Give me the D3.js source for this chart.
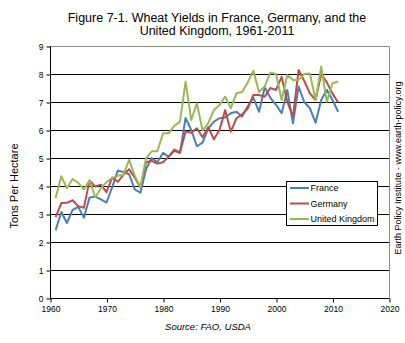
<!DOCTYPE html>
<html><head><meta charset="utf-8">
<script src="https://cdn.jsdelivr.net/npm/d3@7"></script>
<style>body{margin:0;background:#fff}svg{display:block;font-family:"Liberation Sans",Arial,sans-serif}</style>
</head><body><svg id="c" width="405" height="343"></svg>
<script>
const years = d3.range(1961, 2012);
const france = [2.42,3.07,2.68,3.15,3.25,2.87,3.59,3.62,3.52,3.41,3.95,4.55,4.5,4.42,3.88,3.76,4.6,5.0,4.85,5.18,5.05,5.26,5.18,6.43,6.0,5.42,5.55,6.05,6.3,6.42,6.45,6.6,6.65,6.48,6.85,7.15,6.65,7.52,7.15,6.9,6.6,7.43,6.24,7.55,7.0,6.77,6.26,7.07,7.43,7.07,6.65];
const germany = [2.89,3.39,3.4,3.49,3.28,3.22,4.2,3.98,4.05,3.78,4.3,4.15,4.4,4.6,4.3,3.95,4.85,4.9,4.8,4.85,5.05,5.3,5.2,5.95,5.9,6.06,5.74,6.1,5.67,6.0,6.71,5.94,6.42,6.56,6.77,7.25,7.25,7.19,7.5,7.43,7.9,7.01,6.48,8.14,7.75,7.31,7.07,8.0,7.7,7.3,6.98];
const uk = [3.57,4.35,3.92,4.25,4.11,3.88,4.2,3.6,3.92,4.14,4.28,4.37,4.4,4.93,4.37,3.96,4.99,5.24,5.24,5.88,5.88,6.15,6.3,7.73,6.36,6.95,5.98,6.24,6.71,6.89,7.19,6.78,7.31,7.36,7.7,8.12,7.36,7.56,8.05,8.0,7.07,7.96,7.79,7.79,8.0,8.02,7.07,8.26,7.01,7.67,7.73];
const seriesNames = ["France","Germany","United Kingdom"];
const seriesColors = ["#4A7EBB","#BE4B48","#98B954"];
const xTicks = [1960,1970,1980,1990,2000,2010,2020];
const yTicks = [0,1,2,3,4,5,6,7,8,9];
const titleLines = ["Figure 7-1. Wheat Yields in France, Germany, and the","United Kingdom, 1961-2011"];

const svg = d3.select("#c");
const x = d3.scaleLinear().domain([1960,2020]).range([50,389]);
const y = d3.scaleLinear().domain([0,9]).range([298,46]);

// gridlines
svg.append("g").selectAll("line").data(yTicks.filter(v=>v>0&&v<9)).join("line")
  .attr("x1",50).attr("x2",389).attr("y1",d=>y(d)+0.5).attr("y2",d=>y(d)+0.5)
  .attr("stroke","#000").attr("stroke-width",1);
// plot border top/right gray
svg.append("path").attr("d",`M50,${y(9)+0.5}H${389.5}V298`).attr("fill","none").attr("stroke","#888");

// axes
const yAxis = d3.axisLeft(y).tickValues(yTicks).tickSize(4).tickPadding(3).tickFormat(d3.format("d"));
const gy = svg.append("g").attr("transform","translate(50.5,0.5)").call(yAxis);
const xAxis = d3.axisBottom(x).tickValues(xTicks).tickSize(4).tickPadding(3).tickFormat(d3.format("d"));
const gx = svg.append("g").attr("transform","translate(0.5,298.5)").call(xAxis);
[gy,gx].forEach(g=>{
  g.select(".domain").attr("stroke","#000");
  g.selectAll(".tick line").attr("stroke","#000");
  g.selectAll("text").attr("font-size","8.5px").attr("fill","#000").attr("font-family","Liberation Sans, Arial, sans-serif");
});
gx.select(".domain").attr("d","M49.5,0H389");
gy.select(".domain").attr("d","M0,"+y(9)+"V298");

// lines
const data = [france, germany, uk];
const line = d3.line().x((d,i)=>x(years[i])).y(d=>y(d));
svg.append("g").selectAll("path").data(data).join("path")
  .attr("d",line).attr("fill","none").attr("stroke",(d,i)=>seriesColors[i])
  .attr("stroke-width",2).attr("stroke-linejoin","round");

// legend
const lg = svg.append("g");
lg.append("rect").attr("x",286.5).attr("y",181.5).attr("width",91).attr("height",44)
  .attr("fill","#fff").attr("stroke","#000");
seriesNames.forEach((n,i)=>{
  const cy = 188 + i*15.5;
  lg.append("line").attr("x1",290).attr("x2",309).attr("y1",cy).attr("y2",cy)
    .attr("stroke",seriesColors[i]).attr("stroke-width",2);
  lg.append("text").attr("x",310.5).attr("y",cy+3.3).attr("font-size","9px").text(n);
});

// title
svg.append("text").attr("x",217).attr("y",22).attr("text-anchor","middle").attr("font-size","12.5px").text(titleLines[0]);
svg.append("text").attr("x",217).attr("y",35).attr("text-anchor","middle").attr("font-size","12.5px").text(titleLines[1]);

// axis title
svg.append("text").attr("transform","translate(17.5,186) rotate(-90)").attr("text-anchor","middle").attr("font-size","11px").text("Tons Per Hectare");
// right credit
svg.append("text").attr("transform","translate(401,168) rotate(-90)").attr("text-anchor","middle").attr("font-size","9px").text("Earth Policy Institute - www.earth-policy.org");
// source
svg.append("text").attr("x",208).attr("y",330).attr("text-anchor","middle").attr("font-size","9.5px").attr("font-style","italic").text("Source: FAO, USDA");
</script></body></html>
